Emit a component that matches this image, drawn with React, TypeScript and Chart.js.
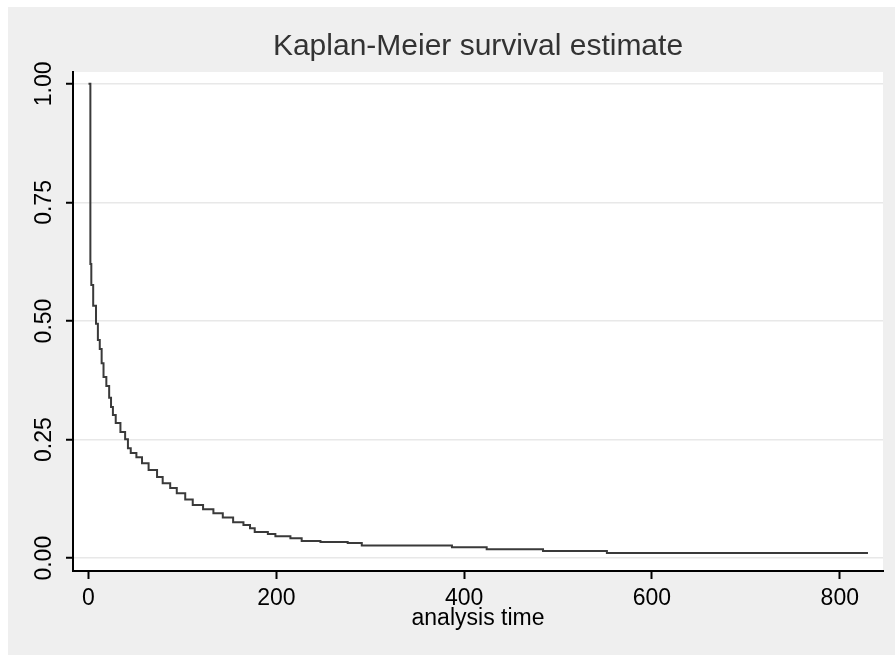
import React, { useEffect, useRef } from "react";
import { Chart, registerables } from "chart.js";

Chart.register(...registerables);

const FONT = "'Liberation Sans', Arial, sans-serif";

// Kaplan-Meier step points: time of each drop and survival after it
const times = [
  0, 2, 3, 5, 8, 10, 12, 14, 16, 19, 22, 24, 26, 29, 34, 39, 42, 45, 51, 57,
  64, 73, 79, 87, 94, 103, 111, 122, 133, 143, 154, 165, 172, 177, 191, 199,
  215, 227, 247, 276, 291, 387, 424, 484, 552, 830,
];
const survival = [
  1.0, 0.62, 0.576, 0.532, 0.494, 0.46, 0.441, 0.411, 0.382, 0.363, 0.338,
  0.319, 0.302, 0.285, 0.266, 0.251, 0.232, 0.222, 0.213, 0.2, 0.186, 0.171,
  0.158, 0.148, 0.137, 0.124, 0.112, 0.103, 0.095, 0.086, 0.076, 0.07, 0.063,
  0.055, 0.051, 0.046, 0.042, 0.036, 0.034, 0.032, 0.027, 0.023, 0.019, 0.015,
  0.011, 0.011,
];
const xTicks = [0, 200, 400, 600, 800];
const yTicks = [0, 0.25, 0.5, 0.75, 1.0];

const bgPlugin = {
  id: "stataBg",
  beforeDraw(chart: any) {
    const { ctx, chartArea } = chart;
    ctx.save();
    ctx.fillStyle = "#ffffff";
    ctx.fillRect(0, 0, chart.width, chart.height);
    ctx.fillStyle = "#efefef";
    ctx.fillRect(8, 7, chart.width - 8, chart.height - 7);
    ctx.fillStyle = "#ffffff";
    ctx.fillRect(
      chartArea.left,
      chartArea.top,
      chartArea.right - chartArea.left,
      chartArea.bottom - chartArea.top
    );
    ctx.restore();
  },
};

export default function App() {
  const ref = useRef<HTMLCanvasElement | null>(null);

  useEffect(() => {
    if (!ref.current) return;
    const chart = new Chart(ref.current, {
      type: "line",
      data: {
        datasets: [
          {
            data: times.map((t, i) => ({ x: t, y: survival[i] })),
            stepped: "before",
            borderColor: "#3a3a3a",
            borderWidth: 2,
            pointRadius: 0,
            fill: false,
          },
        ],
      },
      options: {
        responsive: false,
        animation: false,
        layout: { padding: { left: 0, right: 12, top: 0, bottom: 0 } },
        plugins: {
          legend: { display: false },
          tooltip: { enabled: false },
          title: {
            display: true,
            text: "Kaplan-Meier survival estimate",
            fullSize: false,
            color: "#333333",
            font: { family: FONT, size: 30, weight: "normal" },
            padding: { top: 28.7, bottom: 7.3 },
          },
        },
        scales: {
          x: {
            type: "linear",
            min: -16.5,
            max: 846,
            afterBuildTicks: (s: any) => {
              s.ticks = xTicks.map((v) => ({ value: v }));
            },
            afterFit: (s: any) => {
              s.height = 84;
            },
            grid: {
              drawOnChartArea: false,
              drawTicks: true,
              tickLength: 8,
              tickColor: "#000000",
              tickWidth: 2,
            },
            border: { display: true, color: "#000000", width: 2 },
            ticks: {
              color: "#000000",
              font: { family: FONT, size: 23 },
              padding: 5.7,
              maxRotation: 0,
              autoSkip: false,
              callback: (v: any) => String(v),
            },
            title: {
              display: true,
              text: "analysis time",
              color: "#000000",
              font: { family: FONT, size: 23 },
              padding: { top: 0, bottom: 22.2 },
            },
          },
          y: {
            type: "linear",
            min: -0.027,
            max: 1.025,
            afterBuildTicks: (s: any) => {
              s.ticks = yTicks.map((v) => ({ value: v }));
            },
            afterFit: (s: any) => {
              s.width = 73;
            },
            grid: {
              color: "#e8e8e8",
              lineWidth: 1.5,
              tickColor: "#000000",
              tickLength: 7,
              tickWidth: 2,
            },
            border: { display: true, color: "#000000", width: 2 },
            ticks: {
              color: "#000000",
              font: { family: FONT, size: 23 },
              minRotation: 90,
              maxRotation: 90,
              crossAlign: "center",
              padding: -1,
              autoSkip: false,
              callback: (v: any) => Number(v).toFixed(2),
            },
          },
        },
      },
      plugins: [bgPlugin],
    } as any);
    return () => chart.destroy();
  }, []);

  return (
    <div style={{ position: "absolute", left: 0, top: 0, width: 895, height: 655 }}>
      <canvas ref={ref} width={895} height={655} style={{ display: "block" }} />
    </div>
  );
}
